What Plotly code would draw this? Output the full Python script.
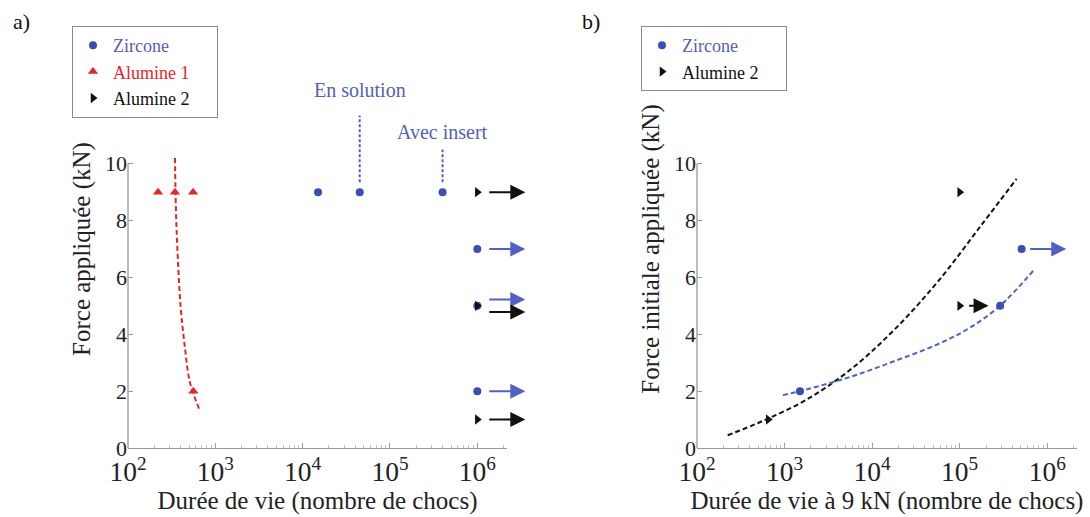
import numpy as np
import plotly.graph_objects as go

# ---------------- data ----------------
# Panel a
zircone_a_x = [1.5e4, 4.5e4, 4.0e5, 1e6, 1e6, 1e6]
zircone_a_y = [9, 9, 9, 7, 5, 2]
zircone_a_runout = [False, False, False, True, True, True]

alumine1_a_x = [221, 345, 556, 560]
alumine1_a_y = [9, 9, 9, 2]

alumine2_a_x = [1e6, 1e6, 1e6]
alumine2_a_y = [9, 5, 1]
alumine2_a_runout = [True, True, True]

fit_alumine1_x = [345, 353, 368, 400, 450, 513, 668]
fit_alumine1_y = [10.2, 8.5, 7, 5, 3.5, 2.3, 1.3]

label_texts = ["En solution", "Avec insert"]
label_x = [4.5e4, 4.0e5]
label_line_top = [11.7, 10.5]
label_text_y = [12.6, 11.1]

# Panel b
zircone_b_x = [1.5e3, 2.9e5, 5.1e5]
zircone_b_y = [2, 5, 7]
zircone_b_runout = [False, False, True]

alumine2_b_x = [650, 1.0e5, 1.0e5]
alumine2_b_y = [1, 9, 5]
alumine2_b_runout = [False, False, True]

fit_b_black_x = [224, 562, 1778, 5623, 17783, 56234, 177828, 446684]
fit_b_black_y = [0.45, 0.95, 1.7, 2.75, 4.15, 5.85, 7.85, 9.47]

fit_b_blue_x = [955, 1778, 5623, 17783, 56234, 125893, 288403, 707946]
fit_b_blue_y = [1.86, 2.06, 2.5, 3.05, 3.65, 4.2, 5.0, 6.27]

y_ticks = [0, 2, 4, 6, 8, 10]

# ---------------- style ----------------
FONT = "Liberation Serif"
BLUE = "#3b4db3"
BLUE_LINE = "#5061c2"
BLUE_TXT = "#5260b8"
RED = "#e3262b"
BLACK = "#111111"
AXC = "#9a9a9a"
W, H = 1090, 517
MT, MB = 50, 69
PH = H - MT - MB


def px2paper(px):
    return px / W


def py2paper(py):
    return (H - MB - py) / PH


fig = go.Figure()


def add_pts(x, y, symbol, color, name, xa, ya, legend, size=9):
    fig.add_trace(go.Scatter(
        x=x, y=y, mode="markers", name=name, legend=legend,
        marker=dict(symbol=symbol, color=color, size=size, line=dict(width=0)),
        xaxis=xa, yaxis=ya, cliponaxis=False, hoverinfo="skip"))


def add_fit(x, y, color, xa, ya, width=2):
    fig.add_trace(go.Scatter(
        x=x, y=y, mode="lines", showlegend=False,
        line=dict(color=color, width=width, dash="5px,3px", shape="spline", smoothing=1.0),
        xaxis=xa, yaxis=ya, hoverinfo="skip"))


PAD = "\u00a0\u00a0\u00a0\u00a0\u00a0"

# ---- panel a ----
add_fit(fit_alumine1_x, fit_alumine1_y, RED, "x", "y")
for lx, top in zip(label_x, label_line_top):
    fig.add_trace(go.Scatter(x=[lx, lx], y=[9.35, top], mode="lines", showlegend=False,
                             line=dict(color=BLUE_LINE, width=2, dash="3px,2px"),
                             xaxis="x", yaxis="y", hoverinfo="skip"))
add_pts(zircone_a_x, zircone_a_y, "circle", BLUE,
        "<span style='color:%s'>Zircone</span>" % BLUE_TXT + PAD, "x", "y", "legend", size=8)
add_pts(alumine1_a_x, alumine1_a_y, "triangle-up", RED,
        "<span style='color:%s'>Alumine 1</span>" % RED + PAD, "x", "y", "legend", size=9)
add_pts(alumine2_a_x, alumine2_a_y, "triangle-right", BLACK,
        "<span style='color:%s'>Alumine 2</span>" % BLACK + PAD, "x", "y", "legend", size=9)

# ---- panel b ----
add_fit(fit_b_black_x, fit_b_black_y, BLACK, "x2", "y2")
add_fit(fit_b_blue_x, fit_b_blue_y, BLUE_LINE, "x2", "y2")
add_pts(zircone_b_x, zircone_b_y, "circle", BLUE,
        "<span style='color:%s'>Zircone</span>" % BLUE_TXT + PAD, "x2", "y2", "legend2", size=8)
add_pts(alumine2_b_x, alumine2_b_y, "triangle-right", BLACK,
        "<span style='color:%s'>Alumine 2</span>" % BLACK + PAD, "x2", "y2", "legend2", size=9)

annotations = []


def runout_arrows(xs, ys, flags, color, xref, yref, start, length, yshift_map=None):
    for x, y, f in zip(xs, ys, flags):
        if not f:
            continue
        yy = y + (yshift_map.get(y, 0) if yshift_map else 0)
        lx = np.log10(x)
        annotations.append(dict(
            x=lx + start + length, y=yy, ax=lx + start, ay=yy,
            xref=xref, yref=yref, axref=xref, ayref=yref,
            text="", showarrow=True, arrowhead=2, arrowsize=1.5, arrowwidth=2,
            arrowcolor=color, standoff=0, startstandoff=0))


# shared runout level in panel a: offset arrows so they don't overlap
shared = set(y for y, f in zip(zircone_a_y, zircone_a_runout) if f) & \
    set(y for y, f in zip(alumine2_a_y, alumine2_a_runout) if f)
runout_arrows(zircone_a_x, zircone_a_y, zircone_a_runout, BLUE_LINE, "x", "y", 0.12, 0.43,
              {y: 0.22 for y in shared})
runout_arrows(alumine2_a_x, alumine2_a_y, alumine2_a_runout, BLACK, "x", "y", 0.12, 0.43,
              {y: -0.22 for y in shared})
runout_arrows(zircone_b_x, zircone_b_y, zircone_b_runout, BLUE_LINE, "x2", "y2", 0.08, 0.43)
runout_arrows(alumine2_b_x, alumine2_b_y, alumine2_b_runout, BLACK, "x2", "y2", 0.09, 0.24)

for t, lx, ty in zip(label_texts, label_x, label_text_y):
    annotations.append(dict(x=np.log10(lx), y=ty, xref="x", yref="y", text=t, showarrow=False,
                            font=dict(family=FONT, size=20, color=BLUE_TXT)))

annotations.append(dict(x=px2paper(11), y=py2paper(7), xref="paper", yref="paper", text="a)",
                        showarrow=False, xanchor="left", yanchor="top",
                        font=dict(family=FONT, size=22, color=BLACK)))
annotations.append(dict(x=px2paper(580), y=py2paper(7), xref="paper", yref="paper", text="b)",
                        showarrow=False, xanchor="left", yanchor="top",
                        font=dict(family=FONT, size=22, color=BLACK)))

shapes = []
for xr, yr in (("x", "y"), ("x2", "y2")):
    shapes.append(dict(type="line", xref=xr + " domain", yref=yr, x0=0, x1=0, y0=0, y1=10,
                       line=dict(color=AXC, width=1.3)))

tickfont = dict(family=FONT, size=22, color="#222")
titlefont = dict(family=FONT, size=25, color="#222")


def xaxis(domain, title):
    return dict(domain=domain, type="log", range=[2, 6.34], dtick=1, exponentformat="power",
                showexponent="all", showline=True, linecolor=AXC, linewidth=1.3,
                ticks="inside", ticklen=5, tickcolor=AXC, showgrid=False, zeroline=False,
                minor=dict(ticks="inside", ticklen=3, tickcolor="#c0c0c0", dtick="D1", showgrid=False),
                tickfont=tickfont, automargin=False,
                title=dict(text=title, font=titlefont, standoff=4))


def yaxis(anchor, title):
    return dict(anchor=anchor, range=[0, 14], tickvals=y_ticks, showline=False,
                ticks="inside", ticklen=5, tickcolor=AXC, showgrid=False, zeroline=False,
                tickfont=tickfont, automargin=False,
                title=dict(text=title, font=titlefont, standoff=7))


legend_style = dict(xanchor="left", yanchor="top", bordercolor="#8a8a8a", borderwidth=1,
                    bgcolor="white", font=dict(family=FONT, size=18, color=BLACK),
                    tracegroupgap=0, itemwidth=30)

fig.update_layout(
    width=W, height=H, autosize=False,
    margin=dict(l=0, r=0, t=MT, b=MB, autoexpand=False),
    paper_bgcolor="white", plot_bgcolor="rgba(0,0,0,0)",
    xaxis=xaxis([px2paper(128), px2paper(507)], "Durée de vie (nombre de chocs)"),
    xaxis2=xaxis([px2paper(697), px2paper(1077)], "Durée de vie à 9 kN (nombre de chocs)"),
    yaxis=yaxis("x", "Force appliquée (kN)"),
    yaxis2=yaxis("x2", "Force initiale appliquée (kN)"),
    legend=dict(x=px2paper(72), y=py2paper(26), **legend_style),
    legend2=dict(x=px2paper(641), y=py2paper(26), **legend_style),
    annotations=annotations, shapes=shapes,
    font=dict(family=FONT),
)

fig.write_html("out.html", config={"displayModeBar": False},
               post_script="document.body.style.margin='0px';"
               "document.body.style.overflow='hidden';")
